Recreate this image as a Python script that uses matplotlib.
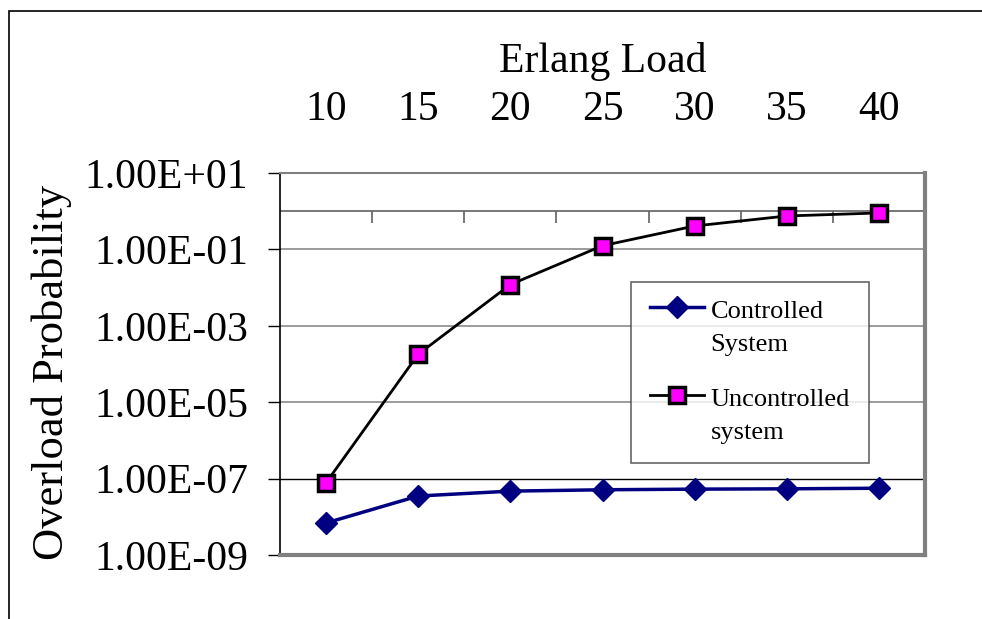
"""
Overload probability vs Erlang load, controlled vs uncontrolled system.
"""

import numpy as np
import matplotlib
matplotlib.use("Agg")
import matplotlib.pyplot as plt
import matplotlib.transforms as mtransforms
from matplotlib.ticker import FixedLocator, FuncFormatter, NullLocator
from matplotlib.patches import Rectangle
from matplotlib.legend_handler import HandlerLine2D

LOADS = ["10", "15", "20", "25", "30", "35", "40"]
CONTROLLED = [6.9e-9, 3.5e-8, 4.7e-8, 5.1e-8, 5.3e-8, 5.4e-8, 5.6e-8]
UNCONTROLLED = [7.8e-8, 1.8e-4, 1.2e-2, 0.125, 0.41, 0.75, 0.9]
Y_TICKS = [1e1, 1e-1, 1e-3, 1e-5, 1e-7, 1e-9]

plt.rcParams["font.family"] = ["Liberation Serif", "DejaVu Serif"]

GRAY = "#808080"


class TopLineHandler(HandlerLine2D):
    # put the legend sample next to the first line of a two-line label
    def create_artists(self, legend, orig_handle, xdescent, ydescent,
                       width, height, fontsize, trans):
        return super().create_artists(legend, orig_handle, xdescent,
                                      ydescent - 1.6 * fontsize, width,
                                      height, fontsize, trans)


fig = plt.figure(figsize=(9.82, 6.19), dpi=100)
ax = fig.add_axes([280 / 982, 1 - 555 / 619, 645 / 982, 382 / 619])

# chart frame (cut off at right and bottom)
fig.patches.append(Rectangle((9 / 982, -0.1), 1.2, 1 - 11 / 619 + 0.1,
                             transform=fig.transFigure, fill=False,
                             edgecolor="black", linewidth=1.2))

x = np.arange(1, len(LOADS) + 1)

ax.set_yscale("log")
ax.set_ylim(1e-9, 1e1)
ax.set_xlim(0.5, len(LOADS) + 0.5)

# horizontal grid
ax.yaxis.set_major_locator(FixedLocator(Y_TICKS))
ax.yaxis.set_minor_locator(NullLocator())
ax.yaxis.set_major_formatter(FuncFormatter(lambda v, _: f"{v:.2E}"))
ax.grid(axis="y", color=GRAY, linewidth=1.1)
for t, g in zip(Y_TICKS, ax.yaxis.get_gridlines()):
    if t == 1e-7:
        g.set_color("black")
        g.set_linewidth(1.0)
ax.tick_params(axis="y", direction="out", length=9, width=1, color="black",
               labelsize=30, pad=14)

# category axis crosses at 1, labels on top
ax.xaxis.tick_top()
ax.set_xticks(x, labels=LOADS)
ax.tick_params(axis="x", length=0, labelsize=30, pad=32)
ax.xaxis.set_label_position("top")
ax.set_xlabel("Erlang Load", fontsize=30, labelpad=13)
ax.set_ylabel("Overload Probability", fontsize=32)
ax.yaxis.set_label_coords(-0.322, 0.479)

ax.axhline(1, color="#606060", linewidth=1.2, zorder=1)
trans = mtransforms.blended_transform_factory(ax.transData, ax.transAxes)
ax.vlines(np.arange(1.5, len(LOADS)), 0.9 - 12 / 382, 0.9, transform=trans,
          color="#606060", linewidth=1.2)

for side in ("top", "right", "bottom"):
    ax.spines[side].set_color(GRAY)
ax.spines["top"].set_linewidth(1.5)
ax.spines["right"].set_linewidth(3)
ax.spines["bottom"].set_linewidth(3)
ax.spines["left"].set_color("black")
ax.spines["left"].set_linewidth(1.2)

ax.plot(x, CONTROLLED, color="#000080", linewidth=2.5, marker="D",
        markersize=11, markerfacecolor="#000080", markeredgecolor="#000080",
        label="Controlled\nSystem", zorder=3)
ax.plot(x, UNCONTROLLED, color="black", linewidth=2, marker="s",
        markersize=12, markerfacecolor="#FF00FF", markeredgecolor="black",
        markeredgewidth=2.5, label="Uncontrolled\nsystem", zorder=4)

leg = ax.legend(loc="upper left", bbox_to_anchor=(0.544, 0.7147),
                borderaxespad=0, fontsize=19, frameon=True, fancybox=False,
                edgecolor="#404040", handlelength=2.05, handletextpad=0.25,
                labelspacing=1.25, borderpad=0.72,
                handler_map={matplotlib.lines.Line2D: TopLineHandler()})
leg.get_frame().set_linewidth(1.2)
for txt in leg.get_texts():
    txt.set_linespacing(1.65)

fig.savefig("out.png", dpi=100)
